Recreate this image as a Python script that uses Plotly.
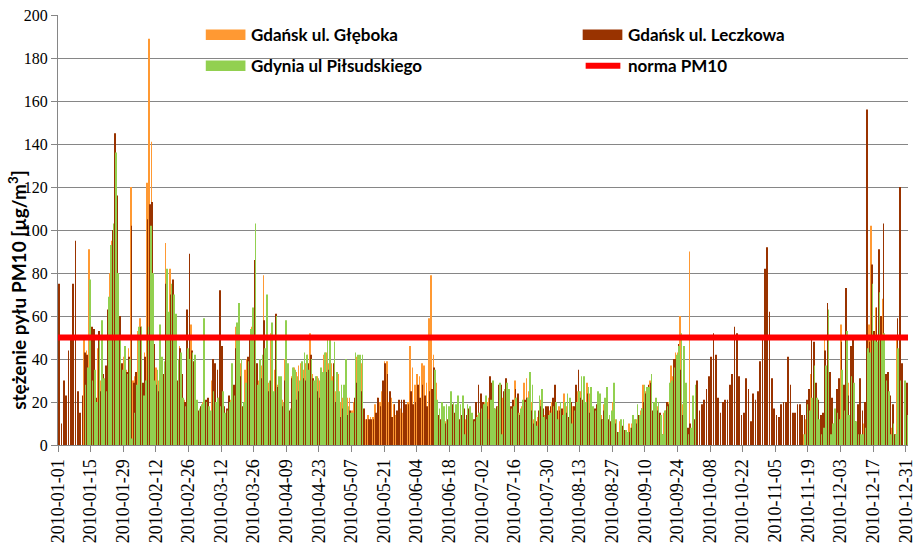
import pandas as pd
import plotly.graph_objects as go

N = None

# Daily dates (categories)
DATES = pd.date_range("2010-01-01", "2010-12-31", freq="D").strftime("%Y-%m-%d").tolist()

# Gdańsk ul. Głęboka (µg/m3)
GLEBOKA = (
    [N] * 11
    + [49, 44, 91, 53, 40, 19, 45, 30, 28, 17]
    + [55, 80, 95, 120, 60, 40, 30, 41, 35, 45]
    + [120, 30, 32, 53, 59, 25, 43, 122, 189, 141]
    + [40, 36, 30, 25, 29, 94, 60, 82, 60, 52]
    + [28, 46, 25, 21, 40, 30, 56, 30, 15, 15]
    + [16, 20, 18, 17, 14, 30, 25, 18, 22, 30]
    + [15, 14, 20, 21, 20, 55, 35, 38, 15, 35]
    + [40, 45, 55, 42, 22, 30, 37, 79, 30, 29]
    + [52, 21, 35, 28, 20, 21, 40, 30, 15, 32]
    + [36, 34, 37, 38, 35, 38, 42, 52, 33, 27]
    + [32, 30, 28, 42, 43, 38, 38, 32, 25, 33]
    + [20, 22, 20, 22, 22, 16, 20, 41, 29, 38]
    + [15, 12, 14, 13]
    + [13, 19, 22, 20, 25, 39, 39]
    + [20, 22, 19, 14, 18, 17, 15, 16, 20, 46]
    + [36, 28, 33, 32, 38, 37, 29, 59, 79, 42]
    + [29, 10, 8, 12, 11, 10, 15, 12, 14, 12]
    + [10, 12, 8, 12, 14, 13, 10, 12, 14, 15]
    + [18, 20, 20, 22, 20, 14, 16, 18, 21, 22]
    + [27, 25, 16, 20, 30, 22, 15, 18, 29, 31]
    + [25, 20, 12, 8, 13, 21, 15, 14, 15, 16]
    + [20, 24, 14, 18, 16, 24, 18, 11, 15, 18]
    + [22, 25, 25, 20, 15, 29, 24, 14, 15, 18]
    + [20, 14, 19, 13, 10, 10, 20, 12, 5, 11]
    + [8, 6, 5, 10, 10, 11, 12, 12, 16, 28]
    + [25, 25, 30, 14, 18, 18, 13, 5, 15, 16]
    + [20, 37, 32, 43, 43, 60, 19, 19, 5, 90]
    + [6, 10]
    + [N] * 46
    + [5, 12, 10, 33, 20, 18, 5, 5, 5, 49, 30, 5]
    + [13, 10, 12, 10, 56, 10, 25, 29, 5, 5]
    + [5, 5, 5, N, 10, 101, 56, 102, 50, 64]
    + [48, 38, 68, 25, 15, 10, 8, 5, 50, 40]
    + [N, N, N]
)

# Gdańsk ul. Leczkowa (µg/m3)
LECZKOWA = (
    [75, 10, 30, 23, 44, 49, 75, 95, 25, 15, 23]
    + [43, 42, 40, 55, 54, 22, 53, 25, 33, 37]
    + [63, 70, 100, 145, 116, 60, 38, 30, 34, 41]
    + [102, 29, 34, 53, 55, 29, 41, 105, 112, 113]
    + [47, 28, 25, 32, 33, 75, 60, 70, 77, 52]
    + [30, 45, 33, 20, 63, 89, 44, 39, 17, 16]
    + [18, 17, 21, 22, 15, 40, 38, 35, 72, 46]
    + [18, 17, 23, 28, 28, 45, 37, 32, 18, 25]
    + [41, 50, 40, 86, 38, 25, 31, 58, 35, 25]
    + [30, 20, 61, 27, 22, 18, 30, 36, 16, 31]
    + [34, 21, 25, 38, 31, 30, 38, 42, 31, 22]
    + [25, 22, 22, 42, 34, 35, 28, 38, 20, 22]
    + [13, 17, 18, 14, 16, 13, 22, 29, 34, 25]
    + [17, 12, 12, 12]
    + [12, 15, 22, 18, 30, 38, 33]
    + [25, 13, 19, 16, 21, 21, 21, 19, 19, 25]
    + [19, 20, 28, 22, 28, 23, 18, 25, 26, 36]
    + [14, 14, 12, 16, 10, 12, 22, 19, 15, 15]
    + [12, 14, 17, 14, 17, 12, 12, 20, 28, 24]
    + [20, 17, 18, 32, 29, 17, 18, 28, 28, 25]
    + [31, 22, 18, 21, 26, 24, 14, 15, 21, 22]
    + [27, 16, 10, 11, 16, 18, 17, 18, 18, 18]
    + [22, 28, 16, 16, 17, 16, 15, 13, 20, 18]
    + [28, 35, 22, 21, 18, 24, 15, 15, 17, 19]
    + [19, 12, 16, 15, 12, 11, 19, 10, 6, 11]
    + [9, 7, 6, 6, 8, 9, 10, 14, 17, 20]
    + [24, 28, 29, 16, 16, 16, 15, 5, 14, 20]
    + [19, 22, 40, 40, 47, 35, 14, 10, 8, 10]
    + [8, 12]
    + [30, 16, 19, 21, 26, 32, 41, 52, 42, 22]
    + [15, 20, 21, 21, 28, 33, 55, 52, 32, 14]
    + [15, 31, 26, 11, 24, 21, 25, 39, 49, 82]
    + [92, 62, 31, 17, 14, 13, 19, 20, 20, 41]
    + [28, 15, 15, 19, 19, 14]
    + [14, 21, 26, 49, 48, 29, 21, 14, 15, 44, 66, 34]
    + [22, 16, 26, 31, 48, 28, 73, 23, 46, 49]
    + [11, 19, 31, 16, 20, 156, 48, 84, 53, 64]
    + [91, 60, 103, 33, 34, 23, 19, 5, 59, 120]
    + [38, 20, 29]
)

# Gdynia ul Piłsudskiego (µg/m3)
GDYNIA = (
    [N] * 11
    + [28, 36, 77, 30, 35, 20, 49, 58, 31, 25]
    + [69, 93, 103, 136, 80, 50, 35, 46, 33, 40]
    + [3, 15, 28, 55, 55, 23, 30, 55, 102, 80]
    + [30, 35, 56, 41, 39, 82, 62, 75, 70, 61]
    + [40, 43, 22, 18, 45, 40, 43, 42, 21, 17]
    + [19, 59, 20, 18, 16, 25, 20, 22, 18, 25]
    + [15, 16, 20, 38, 23, 57, 66, 40, 20, 29]
    + [39, 54, 64, 103, 28, 40, 42, 45, 70, 30]
    + [57, 25, 60, 32, 32, 20, 58, 38, 17, 36]
    + [35, 32, 30, 39, 43, 42, 35, 40, 30, 32]
    + [31, 36, 34, 43, 49, 50, 30, 48, 34, 25]
    + [28, 28, 40, 18, 15, 15, 43, 42, 42, 42]
    + [N] * 30
    + [35]
    + [21, 17, 20, 18, 19, 18, 25, 20, 19, 23]
    + [19, 23, 5, 19, 18, 15, 11, 13, 15, 17]
    + [19, 23, 12, 21, 30, 17, 18, 29, 5, 26]
    + [29, 26, 17, 18, 22, 15, 17, 21, 20, 22]
    + [34, 28, 16, 9, 23, 26, 13, 12, 14, 15]
    + [18, 20, 12, 20, 14, 20, 24, 22, 10, 16]
    + [20, 25, 32, 32, 20, 27, 27, 18, 16, 25]
    + [24, 12, 22, 27, 14, 16, 29, 12, 6, 12]
    + [12, 7, 6, 8, 14, 12, 19, 14, 17, 28]
    + [27, 27, 33, 20, 22, 20, 14, 5, 16, 18]
    + [29, 30, 36, 42, 46, 52, 46, 29, 5, 8]
    + [23, 28]
    + [N] * 46
    + [5, 19, 16, 22, 37, 22, 12, 5, 8, 37, 63, 5]
    + [10, 17, 15, 12, 35, 16, 53, 14, 32, 29]
    + [11, 5, 5, 5, 8, 45, 43, 75, 50, 48]
    + [71, 49, 52, 30, 25, 5, 10, 5, 45, 30]
    + [N, 30, 14]
)

NORMA = 50  # norma PM10

NAMES = ["Gdańsk ul. Głęboka", "Gdańsk ul. Leczkowa", "Gdynia ul Piłsudskiego", "norma PM10"]
COLORS = ["#FF9933", "#993300", "#92D050", "#FF0000"]

for s in (GLEBOKA, LECZKOWA, GDYNIA):
    assert len(s) == len(DATES), len(s)

DAY_MS = 86400000
END = (pd.Timestamp(DATES[-1]) + pd.Timedelta(days=1)).strftime("%Y-%m-%d")

SERIF = "Liberation Serif, Times New Roman, serif"
SANS = "Lato, Carlito, Liberation Sans, sans-serif"

fig = go.Figure()
for name, vals, col in zip(NAMES[:3], (GLEBOKA, LECZKOWA, GDYNIA), COLORS[:3]):
    fig.add_bar(
        x=DATES, y=vals, name=name,
        marker=dict(color=col, line=dict(width=0)),
        xperiod=DAY_MS, xperiodalignment="middle",
    )
fig.add_scatter(
    x=[DATES[0], END], y=[NORMA, NORMA], mode="lines", name=NAMES[3],
    line=dict(color=COLORS[3], width=6),
)

grid = "#868686"
fig.update_layout(
    width=923, height=550,
    margin=dict(l=58, r=8, t=7, b=98),
    paper_bgcolor="white", plot_bgcolor="white",
    barmode="group", bargap=0.12, bargroupgap=0,
    showlegend=False,
    xaxis=dict(
        type="date", range=[DATES[0], END],
        tick0=DATES[0], dtick=14 * DAY_MS, tickformat="%Y-%m-%d",
        tickangle=-90, ticks="outside", ticklen=6, tickcolor=grid,
        showline=True, linecolor=grid, linewidth=1, showgrid=False,
        ticklabeloverflow="allow",
        tickfont=dict(family=SERIF, size=18, color="black"),
    ),
    yaxis=dict(
        range=[0, 200], dtick=20, showgrid=True, gridcolor=grid, gridwidth=1,
        ticks="outside", ticklen=6, tickcolor=grid, zeroline=False,
        showline=True, linecolor=grid, linewidth=1,
        ticklabeloverflow="allow",
        tickfont=dict(family=SERIF, size=16, color="black"),
    ),
)

W = 923 - 58 - 8
H = 550 - 7 - 98
def px(xp):
    return (xp - 58) / W
def py(yp):
    return (550 - 98 - yp) / H

# y-axis title
fig.add_annotation(
    text="stężenie pyłu PM10 [µg/m<sup>3</sup>]", textangle=-90,
    xref="paper", yref="paper", x=px(17), y=py(292), xanchor="center", yanchor="middle",
    showarrow=False,
    font=dict(family=SANS, size=19, color="black", weight="bold"),
)

# custom legend (two columns)
legend_items = [
    (NAMES[0], COLORS[0], 207, 27.5, "bar"),
    (NAMES[1], COLORS[1], 587, 27.5, "bar"),
    (NAMES[2], COLORS[2], 207, 59.5, "bar"),
    (NAMES[3], COLORS[3], 587, 59.5, "line"),
]
for text, col, x0, yc, kind in legend_items:
    if kind == "bar":
        fig.add_shape(type="rect", xref="paper", yref="paper",
                      x0=px(x0), x1=px(x0 + 40), y0=py(yc + 5.5), y1=py(yc - 5.5),
                      fillcolor=col, line=dict(width=0))
    else:
        fig.add_shape(type="line", xref="paper", yref="paper",
                      x0=px(x0 + 3), x1=px(x0 + 38), y0=py(yc), y1=py(yc),
                      line=dict(color=col, width=6))
    fig.add_annotation(text=text, xref="paper", yref="paper",
                       x=px(x0 + 44), y=py(yc), xanchor="left", yanchor="middle",
                       showarrow=False,
                       font=dict(family=SANS, size=17, color="black", weight="bold"))

fig.write_html("out.html")
